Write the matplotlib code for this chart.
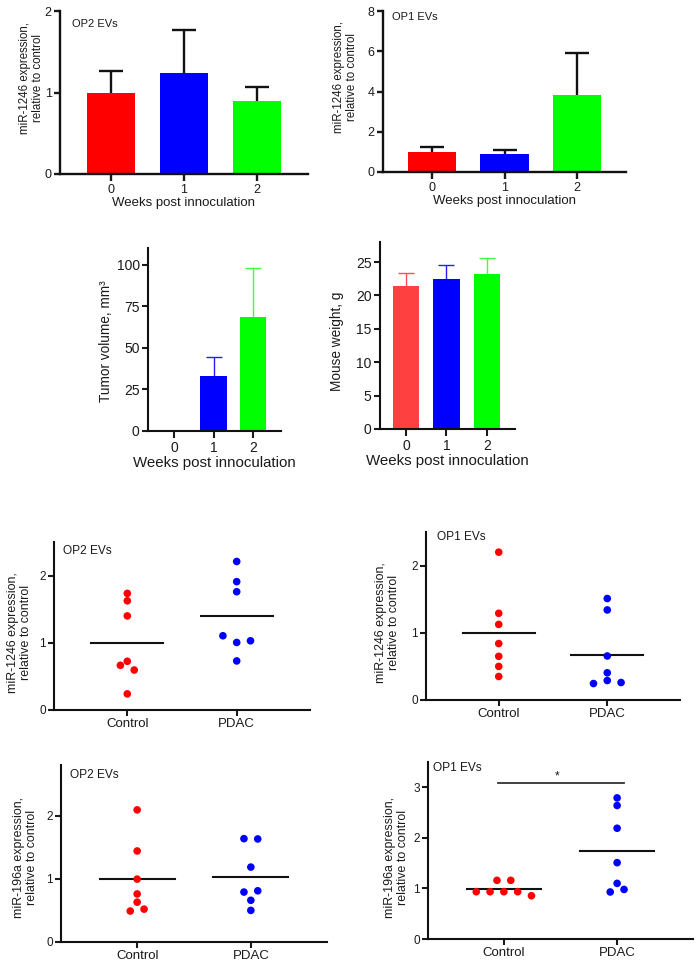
import numpy as np
import matplotlib
matplotlib.use("Agg")
import matplotlib.pyplot as plt

plt.rcParams["font.family"] = ["Liberation Sans", "DejaVu Sans"]
plt.rcParams["text.color"] = "#1a1a1a"
plt.rcParams["axes.labelcolor"] = "#1a1a1a"
plt.rcParams["xtick.color"] = "#1a1a1a"
plt.rcParams["ytick.color"] = "#1a1a1a"

# ---------------------------------
# Data
# ---------------------------------
weeks = [0, 1, 2]
week_labels = ["0", "1", "2"]

op2_1246_mean = [1.0, 1.243, 0.893]
op2_1246_sem = [0.267, 0.527, 0.177]

op1_1246_mean = [0.975, 0.876, 3.83]
op1_1246_sem = [0.265, 0.198, 2.10]

tumor_mean = [0.0, 33.3, 68.3]
tumor_sem = [0.0, 11.2, 29.7]

weight_mean = [21.35, 22.4, 23.15]
weight_sem = [2.0, 2.1, 2.45]

groups = ["Control", "PDAC"]

op2_1246_ctrl = [1.735, 1.625, 1.40, 0.665, 0.595, 0.725, 0.24]
op2_1246_pdac = [2.21, 1.91, 1.76, 1.105, 1.005, 1.03, 0.73]

op1_1246_ctrl = [2.20, 1.29, 1.125, 0.84, 0.65, 0.50, 0.35]
op1_1246_pdac = [1.51, 1.34, 0.655, 0.405, 0.245, 0.29, 0.26]

op2_196a_ctrl = [2.09, 1.44, 0.995, 0.76, 0.63, 0.49, 0.52]
op2_196a_pdac = [1.635, 1.63, 1.185, 0.79, 0.81, 0.66, 0.50]

op1_196a_ctrl = [1.16, 1.16, 0.935, 0.935, 0.935, 0.935, 0.855]
op1_196a_pdac = [2.79, 2.64, 2.19, 1.51, 1.10, 0.93, 0.98]

# ---------------------------------
# Styling
# ---------------------------------
RED, BLUE, GREEN = "#ff0000", "#0000ff", "#00ff00"
FIG_W, FIG_H = 700, 966
ROW_PX = 7.1     # points closer than this (in pixels) share a swarm row
GAP_PX = 13.8    # horizontal spacing between dots in a row


def px_rect(left, top, right, bottom):
    """Axes rect from pixel box (y measured from top)."""
    return [left / FIG_W, 1 - bottom / FIG_H, (right - left) / FIG_W, (bottom - top) / FIG_H]


def style_axes(ax, lw, tick_fs):
    ax.spines["top"].set_visible(False)
    ax.spines["right"].set_visible(False)
    for s in ("left", "bottom"):
        ax.spines[s].set_linewidth(lw)
        ax.spines[s].set_color("#111111")
    ax.tick_params(axis="both", width=lw, length=4, labelsize=tick_fs, pad=2)


def bar_panel(fig, rect, means, errs, colors, ecolors, ylim, yticks, xlim,
              ylabel, ylab_pos, fs, err_lw, capsize, tag=None, tag_pos=None):
    ax = fig.add_axes(rect)
    ax.bar(weeks, means, width=0.66, color=colors, edgecolor="none", zorder=2)
    # one-sided (upper) error bars, drawn behind the bars
    for x, m, e, c in zip(weeks, means, errs, ecolors):
        if e > 0:
            ax.plot([x, x], [m, m + e], color=c, lw=err_lw, zorder=1,
                    solid_capstyle="butt")
            ax.plot([x], [m + e], marker="_", markersize=2 * capsize,
                    markeredgewidth=err_lw, color=c, zorder=1)
    ax.set_ylim(*ylim)
    ax.set_xlim(*xlim)
    ax.set_yticks(yticks)
    ax.set_xticks(weeks)
    ax.set_xticklabels(week_labels)
    style_axes(ax, fs["spine"], fs["tick"])
    ax.tick_params(axis="x", length=5)
    ax.set_xlabel("Weeks post innoculation", fontsize=fs["xlabel"], labelpad=1)
    ax.set_ylabel(ylabel, fontsize=fs["ylabel"], linespacing=1.1)
    ax.yaxis.set_label_coords(*ylab_pos)
    if tag:
        ax.text(*tag_pos, tag, transform=ax.transAxes, fontsize=fs["tag"], va="center")
    return ax


def swarm_offsets(ax, values):
    """Simple row-based swarm: points closer than one dot diameter share a row."""
    values = np.asarray(values)
    p0 = ax.transData.transform((0, 0))
    ppu_x = ax.transData.transform((1, 0))[0] - p0[0]
    ppu_y = ax.transData.transform((0, 1))[1] - p0[1]
    rows = []
    for i in np.argsort(values, kind="stable"):
        if rows and (values[i] - values[rows[-1][0]]) * ppu_y < ROW_PX:
            rows[-1].append(i)
        else:
            rows.append([i])
    offsets = np.zeros(len(values))
    for row in rows:
        row = sorted(row)
        n = len(row)
        for k, i in enumerate(row):
            offsets[i] = (k - (n - 1) / 2) * GAP_PX / ppu_x
    return offsets


def dot_panel(fig, rect, ctrl, pdac, ylim, yticks, ylabel, ylab_pos, tag, tag_pos):
    ax = fig.add_axes(rect)
    ax.set_xlim(-0.67, 1.67)
    ax.set_ylim(*ylim)
    for x, vals, c in zip([0, 1], [ctrl, pdac], [RED, BLUE]):
        off = swarm_offsets(ax, vals)
        ax.scatter(x + off, vals, s=30, color=c, edgecolors="none", zorder=3)
        m = np.mean(vals)
        ax.plot([x - 0.33, x + 0.33], [m, m], color="#111111", lw=1.5, zorder=2)
    ax.set_xticks([0, 1])
    ax.set_xticklabels(groups)
    ax.set_yticks(yticks)
    style_axes(ax, 1.5, 8.5)
    ax.tick_params(axis="x", labelsize=9.5)
    ax.set_ylabel(ylabel, fontsize=8.9, linespacing=1.1)
    ax.yaxis.set_label_coords(*ylab_pos)
    ax.text(*tag_pos, tag, transform=ax.transAxes, fontsize=8.6, va="center")
    return ax


fig = plt.figure(figsize=(7, 9.66), dpi=100)

row1 = {"spine": 1.7, "tick": 9, "xlabel": 9.5, "ylabel": 8.3, "tag": 8}
row2 = {"spine": 1.5, "tick": 10, "xlabel": 10.8, "ylabel": 9.8, "tag": 8}

lab_1246 = "miR-1246 expression,\nrelative to control"
lab_196a = "miR-196a expression,\nrelative to control"

# Row 1: miR-1246 bars
bar_panel(fig, px_rect(60, 11, 308, 174), op2_1246_mean, op2_1246_sem,
          [RED, BLUE, GREEN], ["#111111"] * 3, (0, 2), [0, 1, 2], (-0.70, 2.70),
          lab_1246, (-0.065, 0.59), row1, 1.7, 8.3, "OP2 EVs", (0.048, 0.92))
bar_panel(fig, px_rect(383, 11, 626, 172), op1_1246_mean, op1_1246_sem,
          [RED, BLUE, GREEN], ["#111111"] * 3, (0, 8), [0, 2, 4, 6, 8], (-0.67, 2.67),
          lab_1246, (-0.103, 0.59), row1, 1.7, 8.3, "OP1 EVs", (0.037, 0.963))

# Row 2: tumor volume and mouse weight
bar_panel(fig, px_rect(148, 248, 281, 431), tumor_mean, tumor_sem,
          [RED, BLUE, GREEN], [RED, "#2020ff", "#40ff40"], (0, 110), [0, 25, 50, 75, 100],
          (-0.66, 2.71), "Tumor volume, mm³", (-0.263, 0.49), row2, 1.0, 5.5)
bar_panel(fig, px_rect(380, 242, 515, 429), weight_mean, weight_sem,
          ["#ff4040", BLUE, GREEN], ["#ff5050", "#2020ff", "#40ff40"], (0, 28),
          [0, 5, 10, 15, 20, 25], (-0.64, 2.69), "Mouse weight, g", (-0.267, 0.47),
          row2, 1.0, 5.5)

# Rows 3-4: dot plots
dot_panel(fig, px_rect(54, 542, 310, 710), op2_1246_ctrl, op2_1246_pdac, (0, 2.5),
          [0, 1, 2], lab_1246, (-0.086, 0.46), "OP2 EVs", (0.035, 0.946))
dot_panel(fig, px_rect(426, 532, 680, 700), op1_1246_ctrl, op1_1246_pdac, (0, 2.5),
          [0, 1, 2], lab_1246, (-0.102, 0.46), "OP1 EVs", (0.043, 0.97))
dot_panel(fig, px_rect(61, 765, 327, 942), op2_196a_ctrl, op2_196a_pdac, (0, 2.8),
          [0, 1, 2], lab_196a, (-0.086, 0.48), "OP2 EVs", (0.034, 0.943))
ax8 = dot_panel(fig, px_rect(428, 762, 693, 939), op1_196a_ctrl, op1_196a_pdac, (0, 3.5),
                [0, 1, 2, 3], lab_196a, (-0.072, 0.46), "OP1 EVs", (0.019, 0.966))

# significance bar
ax8.plot([-0.05, 1.06], [3.09, 3.09], color="#333333", lw=1.3)
ax8.text(0.47, 3.22, "*", ha="center", va="center", fontsize=8.5)

fig.savefig("out.png", dpi=100)
